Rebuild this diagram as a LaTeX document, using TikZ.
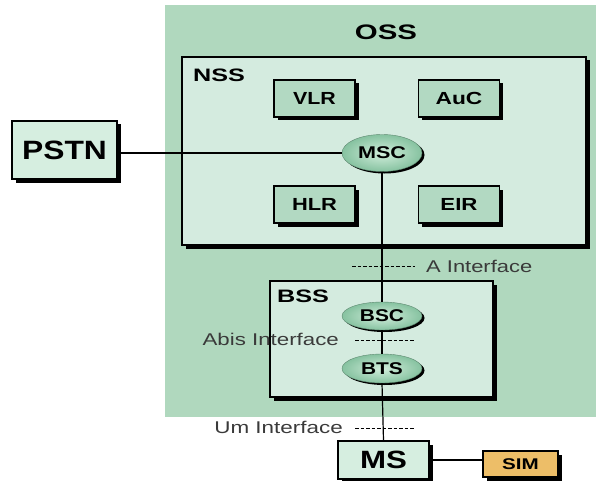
\documentclass[tikz,border=0pt]{standalone}
\usepackage{fontspec}
\usepackage{graphicx}
\setmainfont{Liberation Sans}
\usetikzlibrary{shapes.geometric,shadows}
\definecolor{ossg}{HTML}{B0D8BE}
\definecolor{nssg}{HTML}{D4EBDF}
\definecolor{boxg}{HTML}{B2D9C2}
\definecolor{pstng}{HTML}{D6EEE0}
\definecolor{simo}{HTML}{EDBE68}
\definecolor{lbl}{HTML}{3A3A3A}
\definecolor{ovin}{HTML}{D2EEDC}
\definecolor{ovout}{HTML}{86C2A0}
\newcommand{\wx}[2]{\scalebox{#1}[1]{#2}}
\begin{document}
\begin{tikzpicture}[x=1pt,y=-1pt,
  shbox/.style={draw=black, line width=1.3pt,
    drop shadow={shadow xshift=3.5pt, shadow yshift=-3.5pt, fill=black, opacity=1}},
  unit/.style={shbox, fill=boxg, minimum width=81pt, minimum height=37pt, inner sep=0pt,
    font=\bfseries\fontsize{17.5}{18}\selectfont},
  oval/.style={ellipse, draw=ovout!70!black, line width=0.4pt, inner color=ovin, outer color=ovout,
    minimum width=80pt, inner sep=0pt,
    drop shadow={shadow xshift=2.5pt, shadow yshift=-2pt, fill=black, opacity=1},
    font=\bfseries\fontsize{17}{18}\selectfont},
  grp/.style={font=\bfseries\fontsize{18}{20}\selectfont, inner sep=0pt, anchor=west},
  iflbl/.style={font=\fontsize{17}{18}\selectfont, text=lbl, inner sep=0pt},
  link/.style={line width=1.2pt, draw=black},
  ifdash/.style={line width=1pt, draw=black, dash pattern=on 3.5pt off 2pt}
]
\useasboundingbox (0,0) rectangle (596,481);
% OSS background
\node[fill=ossg, minimum width=431pt, minimum height=412pt, inner sep=0pt] (oss) at (380.5,211) {};
\node[font=\bfseries\fontsize{21}{22}\selectfont, inner sep=0pt] (osst) at (386,32) {\wx{1.4}{OSS}};
% NSS
\node[shbox, fill=nssg, minimum width=404pt, minimum height=188pt, inner sep=0pt] (nss) at (384,151) {};
\node[grp] (nsst) at (193,75) {\wx{1.4}{NSS}};
\node[unit] (vlr) at (314.5,98.5) {\wx{1.22}{VLR}};
\node[unit] (auc) at (459,98.5) {\wx{1.3}{AuC}};
\node[unit] (hlr) at (314.5,204.5) {\wx{1.25}{HLR}};
\node[unit] (eir) at (459,204.5) {\wx{1.27}{EIR}};
\node[oval, minimum height=37pt] (msc) at (382,153) {\wx{1.27}{MSC}};
% PSTN
\node[shbox, fill=pstng, minimum width=105pt, minimum height=58pt, inner sep=0pt,
  font=\bfseries\fontsize{26.5}{28}\selectfont] (pstn) at (64.5,150) {\wx{1.2}{PSTN}};
% BSS
\node[shbox, fill=nssg, minimum width=223pt, minimum height=116pt, inner sep=0pt] (bss) at (381.5,339) {};
\node[grp] (bsst) at (277,296) {\wx{1.4}{BSS}};
\node[oval, minimum height=28pt] (bsc) at (382,316) {\wx{1.23}{BSC}};
\node[oval, minimum height=29pt] (bts) at (382,368.5) {\wx{1.23}{BTS}};
% MS and SIM
\node[shbox, fill=pstng, minimum width=91pt, minimum height=38pt, inner sep=0pt,
  font=\bfseries\fontsize{25}{26}\selectfont] (ms) at (383.5,460) {\wx{1.25}{MS}};
\node[shbox, fill=simo, minimum width=75pt, minimum height=26pt, inner sep=0pt,
  font=\bfseries\fontsize{15.5}{16}\selectfont] (sim) at (520.5,464) {\wx{1.33}{SIM}};
% connectors
\draw[link] (msc.west) -- (msc.west -| pstn.east);
\draw[link] (msc.south) -- (bsc.north);
\draw[link] (bsc.south) -- (bts.north);
\draw[link] (bts.south) -- (ms.north);
\draw[link] (ms.east) -- (ms.east -| sim.west);
% interfaces
\coordinate (a1) at (352,266); \coordinate (a2) at (415,266);
\draw[ifdash] (a1) -- (a2);
\node[iflbl, anchor=west] (aif) at (426,266) {\wx{1.29}{A Interface}};
\coordinate (b1) at (355,340); \coordinate (b2) at (415,340);
\draw[ifdash] (b1) -- (b2);
\node[iflbl, anchor=east] (abif) at (339,339) {\wx{1.31}{Abis Interface}};
\coordinate (u1) at (355,428); \coordinate (u2) at (415,428);
\draw[ifdash] (u1) -- (u2);
\node[iflbl, anchor=east] (umif) at (343,427) {\wx{1.32}{Um Interface}};
\end{tikzpicture}
\end{document}
